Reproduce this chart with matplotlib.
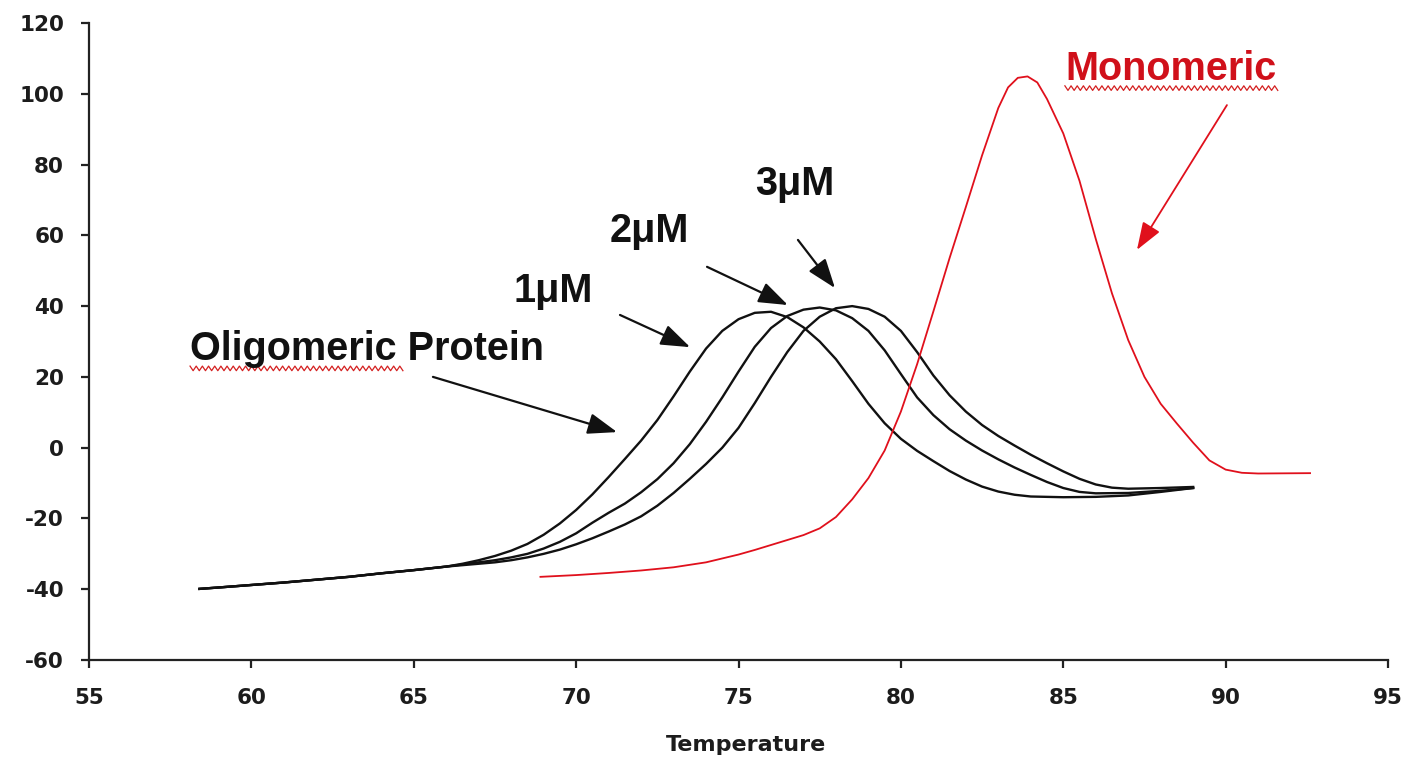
import numpy as np
import matplotlib
matplotlib.use("Agg")
import matplotlib.pyplot as plt

plt.rcParams["axes.unicode_minus"] = False

# Melting curves: temperature (x) vs signal (y)
temp_1uM = [58.4, 59.0, 60.0, 61.0, 62.0, 63.0, 64.0, 65.0, 66.0, 66.5,
            67.0, 67.5, 68.0, 68.5, 69.0, 69.5, 70.0, 70.5, 71.0, 71.5,
            72.0, 72.5, 73.0, 73.5, 74.0, 74.5, 75.0, 75.5, 76.0, 76.5,
            77.0, 77.5, 78.0, 78.5, 79.0, 79.5, 80.0, 80.5, 81.0, 81.5,
            82.0, 82.5, 83.0, 83.5, 84.0, 85.0, 86.0, 87.0, 88.0, 89.0]
signal_1uM = [-39.9, -39.5, -38.8, -38.1, -37.3, -36.5, -35.5, -34.6, -33.6, -32.8,
              -31.8, -30.6, -29.1, -27.2, -24.6, -21.4, -17.6, -13.2, -8.3, -3.2,
              2.0, 7.8, 14.5, 21.5, 28.0, 33.0, 36.3, 38.1, 38.4, 36.9,
              34.0, 30.0, 25.0, 18.8, 12.4, 6.9, 2.5, -0.9, -3.8, -6.6,
              -9.0, -11.0, -12.4, -13.3, -13.8, -14.0, -13.9, -13.5, -12.5, -11.4]

temp_2uM = [58.4, 59.0, 60.0, 61.0, 62.0, 63.0, 64.0, 65.0, 66.0, 66.5,
            67.0, 67.5, 68.0, 68.5, 69.0, 69.5, 70.0, 70.5, 71.0, 71.5,
            72.0, 72.5, 73.0, 73.5, 74.0, 74.5, 75.0, 75.5, 76.0, 76.5,
            77.0, 77.5, 78.0, 78.5, 79.0, 79.5, 80.0, 80.5, 81.0, 81.5,
            82.0, 82.5, 83.0, 83.5, 84.0, 84.5, 85.0, 85.5, 86.0, 87.0,
            88.0, 89.0]
signal_2uM = [-39.9, -39.5, -38.8, -38.1, -37.3, -36.5, -35.5, -34.6, -33.6, -33.0,
              -32.4, -31.8, -31.0, -30.0, -28.5, -26.6, -24.2, -21.2, -18.4, -15.8,
              -12.6, -8.9, -4.4, 1.0, 7.3, 14.2, 21.5, 28.5, 33.8, 37.2,
              39.0, 39.6, 38.8, 36.6, 33.0, 27.5, 20.8, 14.2, 9.2, 5.2,
              2.0, -0.8, -3.3, -5.6, -7.7, -9.7, -11.4, -12.5, -12.9, -12.8,
              -12.2, -11.4]

temp_3uM = [58.4, 59.0, 60.0, 61.0, 62.0, 63.0, 64.0, 65.0, 66.0, 66.5,
            67.0, 67.5, 68.0, 68.5, 69.0, 69.5, 70.0, 70.5, 71.0, 71.5,
            72.0, 72.5, 73.0, 73.5, 74.0, 74.5, 75.0, 75.5, 76.0, 76.5,
            77.0, 77.5, 78.0, 78.5, 79.0, 79.5, 80.0, 80.5, 81.0, 81.5,
            82.0, 82.5, 83.0, 83.5, 84.0, 84.5, 85.0, 85.5, 86.0, 86.5,
            87.0, 88.0, 89.0]
signal_3uM = [-39.9, -39.5, -38.8, -38.1, -37.3, -36.5, -35.5, -34.6, -33.6, -33.2,
              -32.8, -32.4, -31.8, -31.0, -30.0, -28.8, -27.3, -25.6, -23.7, -21.7,
              -19.4, -16.4, -12.8, -8.8, -4.6, 0.0, 5.6, 12.6, 20.0, 27.0,
              33.0, 37.0, 39.4, 40.0, 39.2, 37.0, 33.0, 27.0, 20.4, 14.8,
              10.2, 6.4, 3.3, 0.6, -2.0, -4.4, -6.7, -8.8, -10.4, -11.3,
              -11.6, -11.4, -11.1]

temp_mono = [68.9, 70.0, 71.0, 72.0, 73.0, 74.0, 75.0, 75.5, 76.0, 76.5,
             77.0, 77.5, 78.0, 78.5, 79.0, 79.5, 80.0, 80.5, 81.0, 81.5,
             82.0, 82.5, 83.0, 83.3, 83.6, 83.9, 84.2, 84.5, 85.0, 85.5,
             86.0, 86.5, 87.0, 87.5, 88.0, 88.5, 89.0, 89.5, 90.0, 90.5,
             91.0, 92.6]
signal_mono = [-36.5, -36.0, -35.4, -34.7, -33.8, -32.4, -30.2, -28.9, -27.5, -26.1,
               -24.7, -22.8, -19.6, -14.6, -8.6, -0.8, 10.2, 23.6, 38.5, 53.6,
               68.0, 82.6, 96.0, 101.8, 104.5, 104.9, 103.2, 98.5, 88.8, 75.4,
               59.0, 43.6, 30.4, 20.0, 12.4, 6.8, 1.4, -3.6, -6.2, -7.1,
               -7.3, -7.2]

x_ticks = [55, 60, 65, 70, 75, 80, 85, 90, 95]
y_ticks = [-60, -40, -20, 0, 20, 40, 60, 80, 100, 120]
x_label = "Temperature"

BLACK = "#111111"
RED = "#e0101c"
RED_TEXT = "#d0101a"

fig = plt.figure(figsize=(14.09, 7.61), dpi=100)
ax = fig.add_axes([0.0632, 0.1327, 0.9219, 0.8371])

ax.plot(temp_1uM, signal_1uM, color=BLACK, lw=1.7, solid_joinstyle="round")
ax.plot(temp_2uM, signal_2uM, color=BLACK, lw=1.7, solid_joinstyle="round")
ax.plot(temp_3uM, signal_3uM, color=BLACK, lw=1.7, solid_joinstyle="round")
ax.plot(temp_mono, signal_mono, color=RED, lw=1.3, solid_joinstyle="round")

ax.set_xlim(x_ticks[0], x_ticks[-1])
ax.set_ylim(y_ticks[0], y_ticks[-1])
ax.set_xticks(x_ticks)
ax.set_yticks(y_ticks)

for side in ("top", "right"):
    ax.spines[side].set_visible(False)
for side in ("left", "bottom"):
    ax.spines[side].set_linewidth(1.6)
    ax.spines[side].set_color("#222222")

ax.tick_params(axis="both", direction="out", length=6, width=1.6, color="#222222")
ax.tick_params(axis="y", pad=12)
ax.tick_params(axis="x", pad=14)
for lab in ax.get_xticklabels() + ax.get_yticklabels():
    lab.set_fontfamily("DejaVu Sans")
    lab.set_fontweight("bold")
    lab.set_fontsize(15.5)
    lab.set_color("#1c1c1c")

ax.set_xlabel(x_label, family="DejaVu Sans", weight="bold", size=16,
              color="#1c1c1c")
ax.xaxis.label.set_verticalalignment("center")
ax.xaxis.set_label_coords(0.5054, -0.1334)

label_font = dict(family="Liberation Sans", weight="bold", size=28.5)

ax.text(58.11, 24.8, "Oligomeric Protein", color=BLACK, ha="left", va="baseline", **label_font)
ax.text(68.06, 41.2, "1\u03bcM", color=BLACK, ha="left", va="baseline", **label_font)
ax.text(71.04, 58.1, "2\u03bcM", color=BLACK, ha="left", va="baseline", **label_font)
ax.text(75.51, 71.4, "3\u03bcM", color=BLACK, ha="left", va="baseline", **label_font)
ax.text(85.05, 103.9, "Monomeric", color=RED_TEXT, ha="left", va="baseline", **label_font)


def arrow(tail, tip, color, lw, scale=18):
    ax.annotate("", xy=tip, xytext=tail,
                arrowprops=dict(arrowstyle="-|>,head_length=1.0,head_width=0.36",
                                mutation_scale=scale, color=color, lw=lw,
                                shrinkA=0, shrinkB=0))


arrow((65.59, 20.0), (71.26, 4.4), BLACK, 1.6)
arrow((71.35, 37.5), (73.51, 28.4), BLACK, 1.6)
arrow((74.03, 51.1), (76.52, 40.3), BLACK, 1.6)
arrow((76.83, 58.7), (77.97, 45.1), BLACK, 1.6)
arrow((90.04, 96.8), (87.27, 55.9), RED, 1.3, scale=17)


def squiggle(x0, x1, y, period=0.19, amp=0.65):
    xs = np.arange(x0, x1, period / 2)
    ys = y + amp * np.where(np.arange(len(xs)) % 2 == 0, 1, -1)
    ax.plot(xs, ys, color="#d42020", lw=0.9)


squiggle(58.11, 64.73, 22.4)
squiggle(85.05, 91.67, 101.6)

fig.savefig("out.png", dpi=100, facecolor="white")
